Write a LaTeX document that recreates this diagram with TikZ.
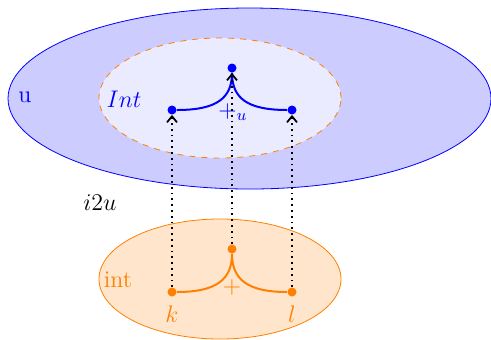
\documentclass[tikz,border=0pt]{standalone}
\usetikzlibrary{shapes.geometric,arrows.meta,calc}
\begin{document}
\begin{tikzpicture}[x=0.5pt,y=-0.5pt,font=\large,
  dotb/.style={circle,fill=blue,inner sep=0pt,minimum size=4.5pt},
  doto/.style={circle,fill=orange,inner sep=0pt,minimum size=4.5pt},
  mapline/.style={dotted,line width=0.9pt,-{Straight Barb[length=3pt,width=5pt]}},
  ell/.style={ellipse,inner sep=0pt}]
\useasboundingbox (0,0) rectangle (491,339);
\node[ell,draw=blue,fill=blue!20,minimum width=241.5pt,minimum height=90.5pt] (U) at (249.5,98.5) {};
\node[ell,draw=orange,dashed,fill=blue!8!white,minimum width=121pt,minimum height=60pt] (I) at (220,98) {};
\node[ell,draw=orange,fill=orange!20,minimum width=121pt,minimum height=60pt] (O) at (220,279) {};
\node[text=blue] (lu) at (25,97) {u};
\node[text=blue] (lI) at (124,99) {$Int$};
\node[text=orange] (lo) at (118,280) {int};
\node (li) at (100,203) {$i2u$};
\node[dotb] (bt) at (232,68) {};
\node[dotb] (bk) at (172,110) {};
\node[dotb] (bl) at (292,110) {};
\node[doto] (ot) at (232,249) {};
\node[doto] (ok) at (172,292) {};
\node[doto] (ol) at (292,292) {};
\node[text=blue] (plu) at (233,112) {$+_u$};
\node[text=orange] (plo) at (232,287) {$+$};
\node[text=orange] (lk) at (172,314) {$k$};
\node[text=orange] (ll) at (292,314) {$l$};
\draw[blue,line width=1pt] (bk) .. controls ($(bk)+(45,0)$) and ($(bt)+(0,30)$) .. (bt.south);
\draw[blue,line width=1pt] (bl) .. controls ($(bl)+(-45,0)$) and ($(bt)+(0,30)$) .. (bt.south);
\draw[orange,line width=1pt] (ok) .. controls ($(ok)+(45,0)$) and ($(ot)+(0,30)$) .. (ot.south);
\draw[orange,line width=1pt] (ol) .. controls ($(ol)+(-45,0)$) and ($(ot)+(0,30)$) .. (ot.south);
\draw[mapline] (ok) -- (bk);
\draw[mapline] (ol) -- (bl);
\draw[mapline] (ot) -- (bt);
\end{tikzpicture}
\end{document}
